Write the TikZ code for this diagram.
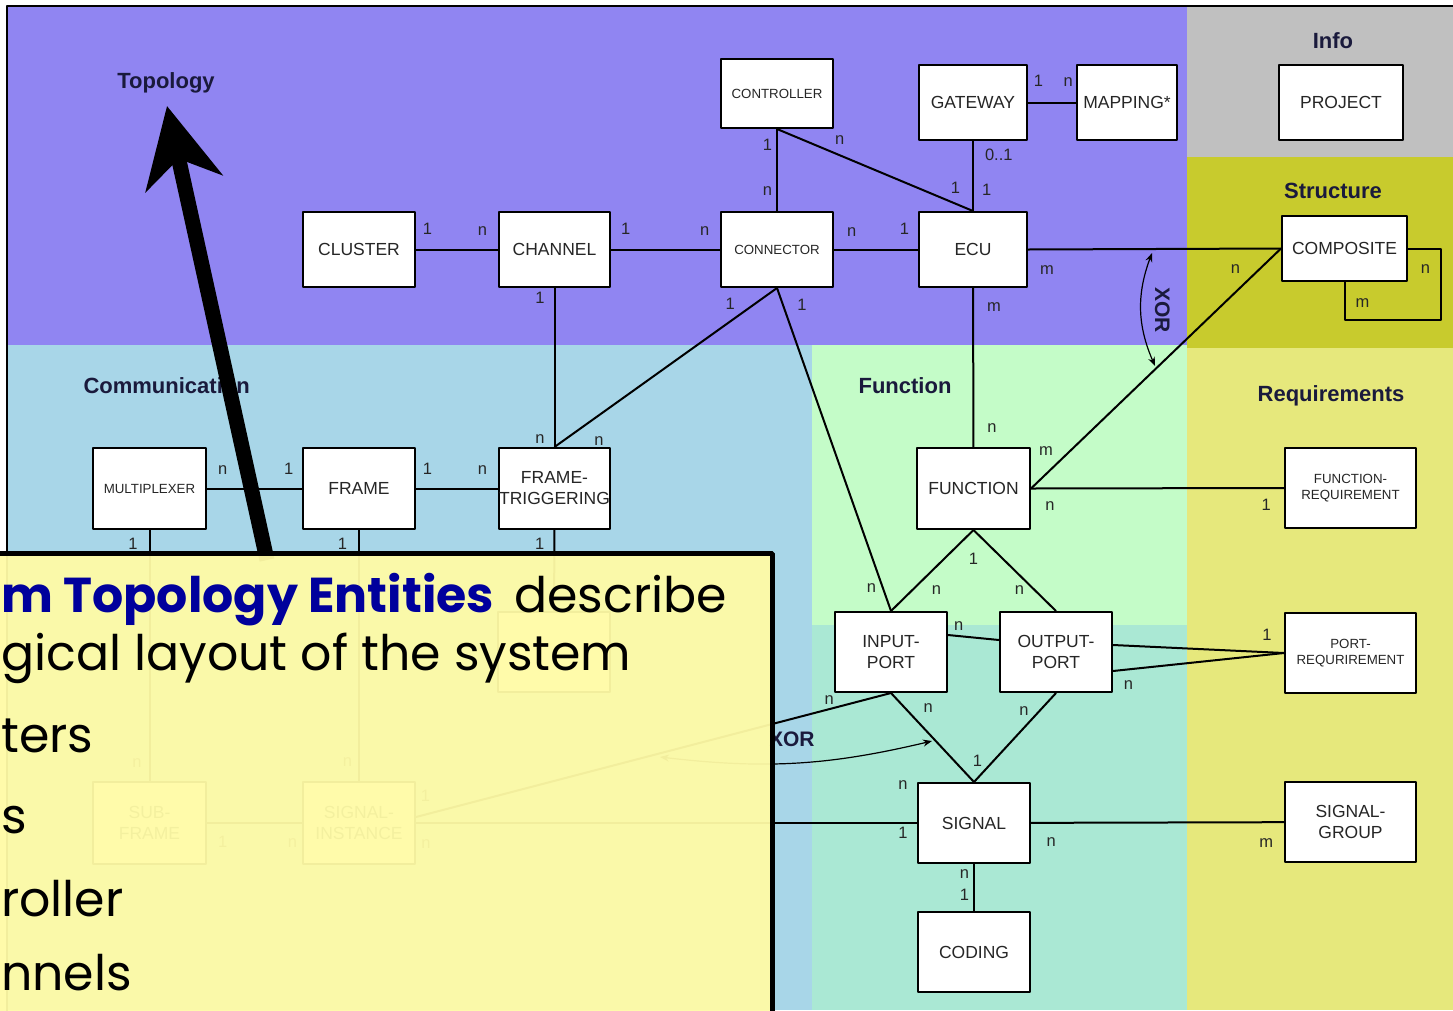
\documentclass[tikz,border=0pt]{standalone}
\usepackage{fontspec}
\setmainfont{Liberation Sans}
\newfontfamily\notefont{Poppins}
\usetikzlibrary{arrows.meta}

\definecolor{topobg}{HTML}{9085F2}
\definecolor{infobg}{HTML}{C0C0C0}
\definecolor{structbg}{HTML}{C8CB2D}
\definecolor{commbg}{HTML}{A8D6E8}
\definecolor{funcbg}{HTML}{C4FCC8}
\definecolor{portbg}{HTML}{AAE8D4}
\definecolor{reqbg}{HTML}{E6E87C}
\definecolor{notebg}{HTML}{FFFBA6}
\definecolor{noteblue}{HTML}{00009C}
\definecolor{areatext}{HTML}{1A1A3C}
\definecolor{boxtext}{HTML}{262626}

\begin{document}
\begin{tikzpicture}[x=1pt,y=-1pt,line join=bevel]
  \tikzstyle{entity}=[draw,line width=2pt,fill=white,inner sep=0pt,align=center,minimum width=112pt,minimum height=80pt,text=boxtext,font=\fontsize{17.5}{21}\selectfont]
  \tikzstyle{small}=[font=\fontsize{13.3}{16}\selectfont]
  \tikzstyle{lbl}=[inner sep=0pt,text height=9pt,text depth=0pt,text=boxtext,font=\fontsize{16.5}{18}\selectfont]
  \tikzstyle{area}=[text=areatext,font=\bfseries\fontsize{22}{24}\selectfont]
  \tikzstyle{rel}=[line width=2pt]
  \tikzstyle{xorarc}=[line width=1.2pt,>={Stealth[length=9pt,width=7pt]},<->]
  \tikzstyle{xorlbl}=[inner sep=0pt,text height=14pt,text depth=0pt,text=areatext,font=\bfseries\fontsize{21}{24}\selectfont]
  \tikzstyle{pointer}=[line width=15pt,-{Stealth[length=79pt,width=78pt,inset=25pt]}]
  \tikzstyle{say}=[anchor=base west,inner sep=0pt,font=\notefont\fontsize{49}{60}\selectfont]

  \useasboundingbox (0,0) rectangle (1453,1010);
  \clip (0,0) rectangle (1453,1010);

  % areas
  \fill[white] (0,0) rectangle (1453,1010);
  \fill[topobg] (7,6) rectangle (1187,345);
  \fill[infobg] (1187,6) rectangle (1453,157);
  \fill[structbg] (1187,157) rectangle (1453,348);
  \fill[commbg] (7,345) rectangle (812,1010);
  \fill[funcbg] (812,345) rectangle (1187,625);
  \fill[portbg] (812,625) rectangle (1187,1010);
  \fill[reqbg] (1187,348) rectangle (1453,1010);
  \draw[line width=2pt] (7,1012) -- (7,6) -- (1460,6);

  \node[area] (topology) at (166,83) {Topology};
  \node[area] (info) at (1333,41) {Info};
  \node[area] (structure) at (1333,191) {Structure};
  \node[area,anchor=west] (communication) at (80,386) {Communication};
  \node[area] (functionarea) at (905,386) {Function};
  \node[area] (requirements) at (1331,396) {Requirements};

  % topology
  \node[entity,small,minimum height=69pt] (controller) at (777,93.5) {CONTROLLER};
  \node[entity,minimum width=108pt,minimum height=75pt] (gateway) at (973,102.5) {GATEWAY};
  \node[entity,minimum width=100pt,minimum height=75pt] (mapping) at (1127,102.5) {MAPPING*};
  \node[entity,minimum width=124pt,minimum height=75pt] (project) at (1341,102.5) {PROJECT};
  \node[entity,minimum height=75pt] (cluster) at (359,249.5) {CLUSTER};
  \node[entity,minimum width=111pt,minimum height=75pt] (channel) at (554.5,249.5) {CHANNEL};
  \node[entity,small,minimum height=75pt] (connector) at (777,249.5) {CONNECTOR};
  \node[entity,minimum width=108pt,minimum height=75pt] (ecu) at (973,249.5) {ECU};
  \node[entity,minimum width=125pt,minimum height=65pt] (composite) at (1344.5,248.5) {COMPOSITE};

  % communication
  \node[entity,small,minimum width=113pt,minimum height=81pt] (mux) at (149.5,488.5) {MULTIPLEXER};
  \node[entity,minimum height=81pt] (frame) at (359,488.5) {FRAME};
  \node[entity,minimum width=111pt,minimum height=81pt] (ftrig) at (554.5,488.5) {FRAME-\\TRIGGERING};
  \node[entity,minimum width=113pt,minimum height=82pt] (subframe) at (149.5,823) {SUB-\\FRAME};
  \node[entity,minimum height=82pt] (siginst) at (359,823) {SIGNAL-\\INSTANCE};
  \node[entity] (ftrigsub) at (554,652) {};

  % function
  \node[entity,minimum width=113pt,minimum height=81pt] (function) at (973.5,488.5) {FUNCTION};
  \node[entity] (inport) at (891,652) {INPUT-\\PORT};
  \node[entity] (outport) at (1056,652) {OUTPUT-\\PORT};
  \node[entity] (signal) at (974,823) {SIGNAL};
  \node[entity] (coding) at (974,952) {CODING};

  % requirements
  \node[entity,small,minimum width=131pt] (funcreq) at (1350.5,488) {FUNCTION-\\REQUIREMENT};
  \node[entity,small,minimum width=131pt] (portreq) at (1350.5,653) {PORT-\\REQURIREMENT};
  \node[entity,minimum width=131pt] (siggroup) at (1350.5,822) {SIGNAL-\\GROUP};

  \path[rel]
    (cluster) edge node[lbl,pos=.14,above=14pt] {1} node[lbl,pos=.81,above=13pt] {n} (channel)
    (channel) edge node[lbl,pos=.135,above=14pt] {1} node[lbl,pos=.86,above=13pt] {n} (connector)
    (connector) edge node[lbl,pos=.21,above=12pt] {n} node[lbl,pos=.84,above=14pt] {1} (ecu)
    (controller.south) edge node[lbl,pos=.21,left=4pt] {1} node[lbl,pos=.75,left=4pt] {n} (connector.north)
    (controller.south) edge node[lbl,pos=.32,above=10pt] {n} node[lbl,pos=.91,above=9pt] {1} (ecu.north)
    (gateway) edge node[lbl,pos=.21,right=11pt] {0..1} node[lbl,pos=.72,right=8pt] {1} (ecu)
    (gateway) edge node[lbl,pos=.22,above=15pt] {1} node[lbl,pos=.84,above=15pt] {n} (mapping)
    (ecu.east) edge node[lbl,pos=.075,below=15pt] {m} node[lbl,pos=.82,below=15pt] {n} (composite.west)
    (ecu) edge node[lbl,pos=.12,right=13pt] {m} node[lbl,pos=.88,right=13pt] {n} (function)
    (function.east) edge node[lbl,pos=.06,above=18pt] {m} (composite.west)
    (function.east) edge node[lbl,pos=.075,below=12pt] {n} node[lbl,pos=.93,below=12pt] {1} (funcreq.west)
    (channel) edge node[lbl,pos=.07,left=9pt] {1} node[lbl,pos=.95,left=9pt] {n} (ftrig)
    (connector.south) edge node[lbl,pos=.21,above=11pt] {1} node[lbl,pos=.8,below=20pt] {n} (ftrig.north)
    (connector.south) edge node[lbl,pos=.055,right=13pt] {1} node[lbl,pos=.93,left=6pt] {n} (inport.north)
    (mux) edge node[lbl,pos=.165,above=13pt] {n} node[lbl,pos=.86,above=13pt] {1} (frame)
    (frame) edge node[lbl,pos=.14,above=13pt] {1} node[lbl,pos=.81,above=13pt] {n} (ftrig)
    (mux) edge node[lbl,pos=.06,left=11pt] {1} node[lbl,pos=.93,left=7pt] {n} (subframe)
    (frame) edge node[lbl,pos=.06,left=11pt] {1} node[lbl,pos=.925,left=6pt] {n} (siginst)
    (ftrig) edge node[lbl,pos=.18,left=9pt] {1} (ftrigsub)
    (subframe) edge node[lbl,pos=.165,below=14pt] {1} node[lbl,pos=.9,below=14pt] {n} (siginst)
    (function.south) edge node[lbl,pos=0,below=24pt] {1} node[lbl,pos=.735,right=18pt] {n} (inport.north)
    (function.south) edge node[lbl,pos=.735,left=9pt] {n} (outport.north)
    ([yshift=17pt]inport.east) edge node[lbl,pos=.21,above=5pt] {n} ([yshift=12pt]outport.west)
    ([yshift=7pt]outport.east) edge node[lbl,pos=.9,above=11pt] {1} (portreq.west)
    ([yshift=-19pt]outport.east) edge node[lbl,pos=.09,below=10pt] {n} (portreq.west)
    (inport.south) edge node[lbl,pos=.165,right=18pt] {n} (signal.north)
    (outport.south) edge node[lbl,pos=.2,left=10pt] {n} node[lbl,pos=.78,left=9pt] {1} (signal.north)
    ([yshift=6pt]siginst.east) edge node[lbl,pos=.02,above=12pt] {1} node[lbl,pos=.87,above=4pt] {n} (inport.south)
    (siginst) edge node[lbl,pos=.02,below=15pt] {n} node[lbl,pos=.972,below=5pt] {1} node[lbl,pos=.972,above=33pt] {n} (signal)
    (signal) edge node[lbl,pos=.08,below=14pt] {n} node[lbl,pos=.93,below=15pt] {m} (siggroup)
    (signal) edge node[lbl,pos=.22,left=4pt] {n} node[lbl,pos=.69,left=4pt] {1} (coding);

  \draw[rel] (composite.east) -- ++(33,0) -- ++(0,71.5) node[lbl,pos=.29,left=10pt] {n}
    -| (composite.south) node[lbl,pos=.73,right=10pt] {m};

  % XOR
  \coordinate (xortop) at (1152,253);
  \coordinate (xorbot) at (1155,366);
  \draw[xorarc] (xortop) to[bend right=22] node[xorlbl,pos=.5,xshift=21pt,rotate=-90] {XOR} (xorbot);
  \coordinate (xorleft) at (660,757);
  \coordinate (xorright) at (932,741);
  \draw[xorarc] (xorleft) to[bend right=10] node[xorlbl,pos=.48,above=16pt] {XOR} (xorright);

  % pointer
  \coordinate (ptrfoot) at (267,560);
  \coordinate (ptrtip) at (167,106);
  \draw[pointer] (ptrfoot) -- (ptrtip);

  % note
  \draw[line width=5pt,fill=notebg,fill opacity=.95] (-10,553.5) rectangle (772,1020);
  \node[say] (say1) at (1,612) {{\bfseries\color{noteblue}m Topology Entities}\hspace{20pt}describe};
  \node[say] (say2) at (1,670) {gical layout of the system};
  \node[say] (say3) at (1,752) {ters};
  \node[say] (say4) at (1,833) {s};
  \node[say] (say5) at (1,916) {roller};
  \node[say] (say6) at (1,990) {nnels};
\end{tikzpicture}
\end{document}
